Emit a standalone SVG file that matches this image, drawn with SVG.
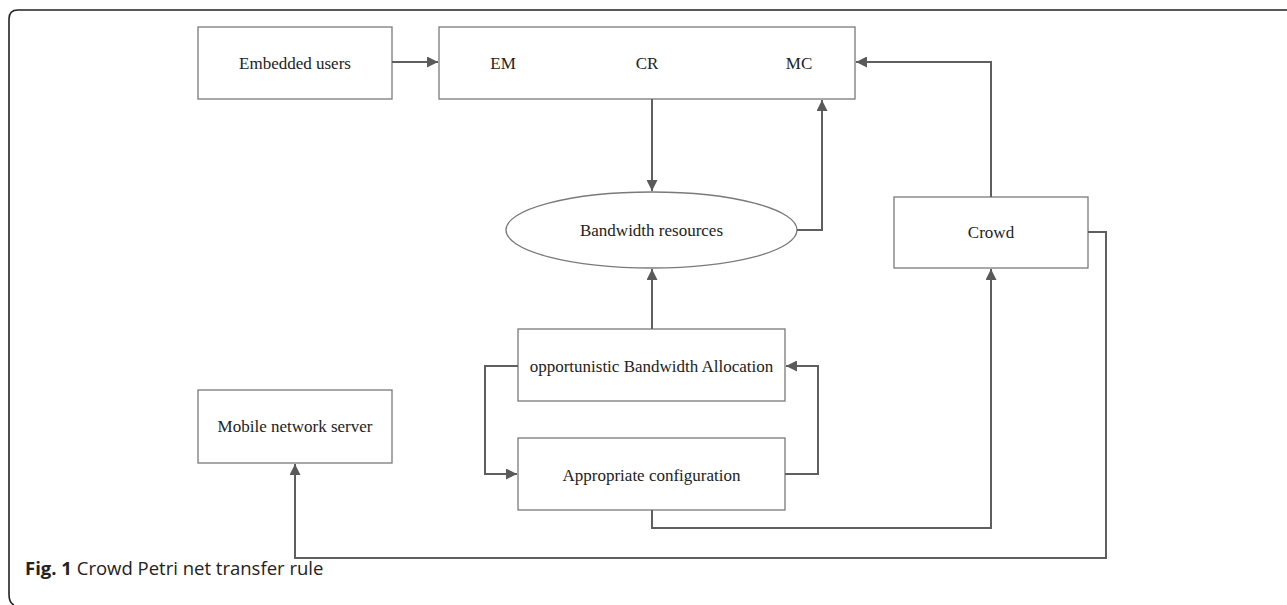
<svg xmlns="http://www.w3.org/2000/svg" width="1287" height="605" viewBox="0 0 1287 605">
<defs>
<marker id="ah" viewBox="0 0 10 10" refX="10" refY="5" markerWidth="11" markerHeight="11" markerUnits="userSpaceOnUse" orient="auto">
<path d="M0,0 L10,5 L0,10 z" fill="#5a5a5a"/>
</marker>
<style>
.box{fill:#fff;stroke:#7a7a7a;stroke-width:1.3}
.lbl{font-family:"Liberation Serif","Times New Roman",serif;font-size:17px;fill:#222;text-anchor:middle;dominant-baseline:central}
.con{fill:none;stroke:#5f5f5f;stroke-width:2}
.arr{marker-end:url(#ah)}
</style>
</defs>
<rect width="1287" height="605" fill="#fff"/>
<path d="M1300,10 L18,10 Q9,10 9,19 L9,594 Q9,603 14,605" fill="none" stroke="#222" stroke-width="1.6"/>
<g id="embedded-users"><rect class="box" x="198" y="27" width="194" height="72"/><text class="lbl" x="295" y="63">Embedded users</text></g>
<g id="em-cr-mc"><rect class="box" x="439" y="27" width="416" height="72"/><text class="lbl" x="503" y="63">EM</text><text class="lbl" x="647" y="63">CR</text><text class="lbl" x="799" y="63">MC</text></g>
<g id="bandwidth-resources"><ellipse class="box" cx="651.5" cy="230" rx="145.5" ry="38"/><text class="lbl" x="651.5" y="230">Bandwidth resources</text></g>
<g id="crowd"><rect class="box" x="894" y="197" width="194" height="71"/><text class="lbl" x="991" y="232">Crowd</text></g>
<g id="oba"><rect class="box" x="518" y="329" width="267" height="72"/><text class="lbl" x="651.5" y="366">opportunistic Bandwidth Allocation</text></g>
<g id="appropriate-configuration"><rect class="box" x="518" y="438" width="267" height="72"/><text class="lbl" x="651.5" y="475">Appropriate configuration</text></g>
<g id="mobile-network-server"><rect class="box" x="198" y="390" width="194" height="73"/><text class="lbl" x="295" y="426">Mobile network server</text></g>
<g id="connectors">
<path class="con arr" d="M392,62 L438,62"/>
<path class="con arr" d="M652,99 L652,191"/>
<path class="con arr" d="M797,230 L822,230 L822,100"/>
<path class="con arr" d="M652,329 L652,269"/>
<path class="con arr" d="M991,197 L991,62 L856,62"/>
<path class="con arr" d="M518,366 L485,366 L485,474 L517,474"/>
<path class="con arr" d="M785,474 L818,474 L818,366 L786,366"/>
<path class="con arr" d="M652,510 L652,528 L991,528 L991,269"/>
<path class="con arr" d="M1088,232 L1106,232 L1106,558 L295,558 L295,464"/>
</g>
<text x="25" y="575" font-family="'Open Sans','Noto Sans',sans-serif" font-size="18.5" fill="#222"><tspan font-weight="bold">Fig. 1</tspan> Crowd Petri net transfer rule</text>
</svg>
